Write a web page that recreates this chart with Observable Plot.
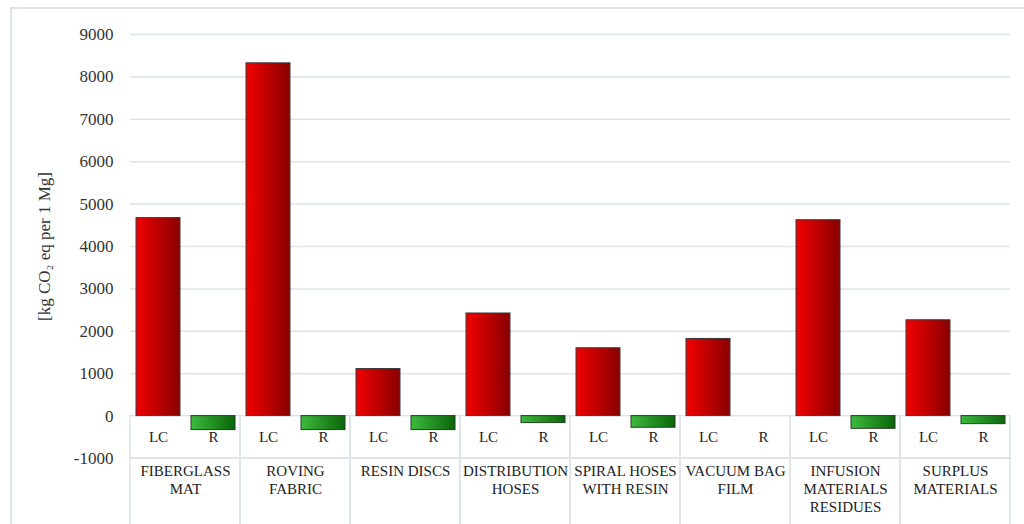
<!DOCTYPE html>
<html><head><meta charset="utf-8">
<script src="https://cdn.jsdelivr.net/npm/d3@7"></script>
<script src="https://cdn.jsdelivr.net/npm/@observablehq/plot@0.6"></script>
<style>
body{margin:0;background:#fff;}
#wrap{position:relative;width:1024px;height:524px;overflow:hidden;}
#wrap svg{position:absolute;left:0;top:0;}
#wrap svg text{font-family:'Liberation Serif','Times New Roman',serif !important;font-variant-numeric:normal !important;}
#border{position:absolute;left:10px;top:7px;width:1100px;height:600px;border-left:2px solid #dde3ea;border-top:2px solid #dde3ea;pointer-events:none;}
</style></head><body><div id="wrap"><div id="border"></div></div>
<script>
const categories = ["FIBERGLASS MAT","ROVING FABRIC","RESIN DISCS","DISTRIBUTION HOSES","SPIRAL HOSES WITH RESIN","VACUUM BAG FILM","INFUSION MATERIALS RESIDUES","SURPLUS MATERIALS"];
const categoryLabels = ["FIBERGLASS\nMAT","ROVING\nFABRIC","RESIN DISCS","DISTRIBUTION\nHOSES","SPIRAL HOSES\nWITH RESIN","VACUUM BAG\nFILM","INFUSION\nMATERIALS\nRESIDUES","SURPLUS\nMATERIALS"];
const series = ["LC","R"];
const lcValues = [4670, 8320, 1110, 2420, 1600, 1820, 4620, 2260];
const rValues = [-330, -330, -330, -165, -275, 0, -300, -190];
const yTicks = [-1000,0,1000,2000,3000,4000,5000,6000,7000,8000,9000];
const gridTicks = [1000,2000,3000,4000,5000,6000,7000,8000,9000];
const yLabel = "[kg CO₂ eq per 1 Mg]";

const rows = categories.flatMap((c, i) => [
  {category: c, label: categoryLabels[i], series: "LC", value: lcValues[i]},
  {category: c, label: categoryLabels[i], series: "R", value: rValues[i]}
]);

const gridColor = "#dde3ea";
const chart = Plot.plot({
  width: 1024, height: 524,
  marginTop: 34, marginBottom: 66, marginLeft: 128, marginRight: 13,
  style: {fontFamily: "'Liberation Serif', 'Times New Roman', serif", fontSize: "17px", color: "#333", background: "transparent"},
  facet: {data: rows, x: "category"},
  fx: {domain: categories, padding: 0, axis: null},
  x: {domain: series, paddingInner: 0.2, paddingOuter: 0.1, axis: null},
  y: {domain: [-1000, 9000], ticks: yTicks, tickSize: 0, tickPadding: 17, tickFormat: d => String(d),
      label: yLabel, labelAnchor: "center", labelOffset: 93, labelArrow: "none"},
  marks: [
    Plot.ruleY(gridTicks, {stroke: gridColor, strokeWidth: 1.5}),
    Plot.rect([0], {y1: 0, y2: -1000, fill: "none", stroke: gridColor, strokeWidth: 1.5}),
    Plot.rect([0], {y1: -1000, y2: -2600, fill: "none", stroke: gridColor, strokeWidth: 1.5}),
    Plot.barY(rows, {filter: d => d.series === "LC", x: "series", y: "value", fill: "#e00001", stroke: "#3a3a3a", strokeWidth: 1}),
    Plot.barY(rows, {filter: d => d.series === "R" && d.value !== 0, x: "series", y: "value", fill: "#30a031", stroke: "#263f26", strokeWidth: 1}),
    Plot.text(rows, {x: "series", y: -500, text: "series", fontSize: 15, fill: "#222"}),
    Plot.text(rows, {filter: d => d.series === "LC", y: -1000, text: "label", lineAnchor: "top", dy: 4, fontSize: 15, lineHeight: 1.23, fill: "#222"})
  ]
});
const svg = chart.tagName.toLowerCase() === "svg" ? chart : chart.querySelector("svg");
const defs = d3.select(svg).insert("defs", ":first-child");
function grad(id, c0, c1) {
  const g = defs.append("linearGradient").attr("id", id).attr("x1", "0%").attr("x2", "100%").attr("y1", "0%").attr("y2", "0%");
  g.append("stop").attr("offset", "0%").attr("stop-color", c0);
  g.append("stop").attr("offset", "100%").attr("stop-color", c1);
}
grad("gRed", "#f20000", "#880000");
grad("gGreen", "#3dba3d", "#0a650a");
d3.select(svg).selectAll('[fill="#e00001"]').attr("fill", "url(#gRed)");
d3.select(svg).selectAll('[fill="#30a031"]').attr("fill", "url(#gGreen)");
document.getElementById("wrap").insertBefore(chart, document.getElementById("border"));
</script></body></html>
